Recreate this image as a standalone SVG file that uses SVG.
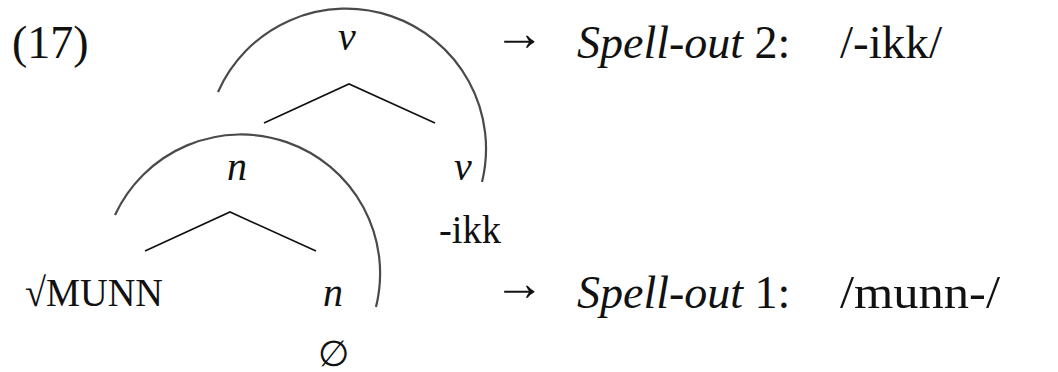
<svg xmlns="http://www.w3.org/2000/svg" width="1058" height="372" viewBox="0 0 1058 372">
<style>
.t{font-family:"Liberation Serif",serif;fill:#111}
.tr{font-size:40px}
.it{font-style:italic}
.sp{font-size:46px}
.ar{font-size:51px}
.arc{fill:none;stroke:#4a4a4a;stroke-width:2.2}
.br{fill:none;stroke:#111;stroke-width:1.6}
</style>
<rect width="1058" height="372" fill="#fff"/>
<text class="t" x="12" y="58" font-size="46">(17)</text>
<g id="connectors">
<path class="arc" d="M218 92 A140 140 0 0 1 482 182"/>
<path class="arc" d="M115 215 A139 139 0 0 1 376 307"/>
<polyline class="br" points="264,123 349,84 435,123"/>
<polyline class="br" points="145,251 230,212 316,251"/>
</g>
<g id="v-top"><text class="t tr it" x="347" y="50" text-anchor="middle">v</text></g>
<g id="n-upper"><text class="t tr it" x="237" y="180" text-anchor="middle">n</text></g>
<g id="v-right"><text class="t tr it" x="463" y="180" text-anchor="middle">v</text></g>
<g id="ikk"><text class="t tr" x="439" y="243" textLength="62" lengthAdjust="spacingAndGlyphs">-ikk</text></g>
<g id="root"><text class="t tr" x="25" y="306" textLength="138" lengthAdjust="spacingAndGlyphs">√MUNN</text></g>
<g id="n-lower"><text class="t tr it" x="333" y="306" text-anchor="middle">n</text></g>
<g id="null"><text class="t" x="333" y="366" font-size="36" text-anchor="middle">∅</text></g>
<g id="spellout2">
<text class="t ar" x="494" y="50">→</text>
<text class="t sp" x="577" y="58"><tspan class="it">Spell-out</tspan> 2:</text>
<text class="t sp" x="840" y="58" textLength="102" lengthAdjust="spacingAndGlyphs">/-ikk/</text>
</g>
<g id="spellout1">
<text class="t ar" x="494" y="300">→</text>
<text class="t sp" x="577" y="308"><tspan class="it">Spell-out</tspan> 1:</text>
<text class="t sp" x="840" y="308" textLength="160" lengthAdjust="spacingAndGlyphs">/munn-/</text>
</g>
</svg>
